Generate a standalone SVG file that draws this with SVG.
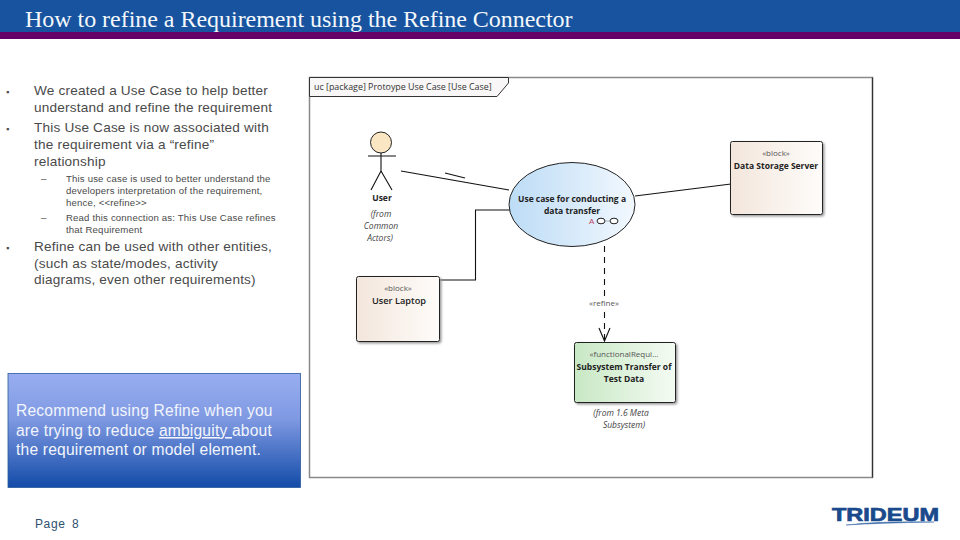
<svg xmlns="http://www.w3.org/2000/svg" width="960" height="540" viewBox="0 0 960 540">
<style>
text{font-family:"Liberation Sans",Arial,sans-serif}
.b{font-size:13.6px;fill:#4a4a4a;letter-spacing:.19px}
.d{font-size:9px;fill:#4a4a4a}
.s{font-size:9.6px;fill:#4a4a4a;letter-spacing:.17px}
.n{font-size:8.5px;fill:#222;font-weight:bold;font-family:"Open Sans","Liberation Sans",sans-serif;text-anchor:middle}
.t{font-size:8px;fill:#555;font-family:"Open Sans","Liberation Sans",sans-serif;text-anchor:middle}
.i{font-size:8.5px;fill:#444;font-style:italic;font-family:"Open Sans","Liberation Sans",sans-serif;text-anchor:middle}
.w{font-size:15.6px;fill:#f2f5fc;letter-spacing:.2px}
.l{fill:none;stroke:#111;stroke-width:1.1}
.box{stroke:#222;stroke-width:1;filter:url(#sh)}
</style>
<defs>
<linearGradient id="bl" x1="0" y1="0" x2="0" y2="1"><stop offset="0" stop-color="#98aef0"/><stop offset=".4" stop-color="#7f99e2"/><stop offset="1" stop-color="#124ba8"/></linearGradient>
<linearGradient id="uc" x1="0" y1="0" x2="1" y2="0"><stop offset="0" stop-color="#bcdcf6"/><stop offset="1" stop-color="#f2f8fe"/></linearGradient>
<linearGradient id="bk" x1="0" y1="0" x2="1" y2="0"><stop offset="0" stop-color="#f3e6dc"/><stop offset="1" stop-color="#fefcfa"/></linearGradient>
<linearGradient id="gr" x1="0" y1="0" x2="1" y2="0"><stop offset="0" stop-color="#c8e8c4"/><stop offset="1" stop-color="#f4fbf3"/></linearGradient>
<filter id="sh" x="-10%" y="-10%" width="125%" height="125%"><feDropShadow dx="1.500" dy="1.500" stdDeviation="1" flood-color="#999"/></filter>
</defs>
<rect width="960" height="540" fill="#fff"/>
<g id="header">
<rect width="960" height="32" fill="#17539f"/>
<rect y="32" width="960" height="7" fill="#660066"/>
<text x="25" y="27" style="font-family:'Liberation Serif',serif;font-size:24px;fill:#f4f8fc;letter-spacing:-.03px">How to refine a Requirement using the Refine Connector</text>
</g>
<g id="bullets">
<text class="d" x="6" y="95">▪</text>
<text class="b" x="34" y="95">We created a Use Case to help better</text>
<text class="b" x="34" y="112">understand and refine the requirement</text>
<text class="d" x="6" y="132">▪</text>
<text class="b" x="34" y="132">This Use Case is now associated with</text>
<text class="b" x="34" y="149">the requirement via a “refine”</text>
<text class="b" x="34" y="166">relationship</text>
<text class="s" x="41" y="182">–</text>
<text class="s" x="66" y="182">This use case is used to better understand the</text>
<text class="s" x="66" y="194">developers interpretation of the requirement,</text>
<text class="s" x="66" y="206">hence, &lt;&lt;refine&gt;&gt;</text>
<text class="s" x="41" y="221">–</text>
<text class="s" x="66" y="221">Read this connection as: This Use Case refines</text>
<text class="s" x="66" y="233">that Requirement</text>
<text class="d" x="6" y="251">▪</text>
<text class="b" x="34" y="251">Refine can be used with other entities,</text>
<text class="b" x="34" y="268">(such as state/modes, activity</text>
<text class="b" x="34" y="284">diagrams, even other requirements)</text>
</g>
<g id="callout">
<rect x="8" y="373.500" width="292.500" height="114" fill="url(#bl)" stroke="#2b5a9c" stroke-width=".8"/>
<text class="w" x="16" y="416">Recommend using Refine when you</text>
<text class="w" x="16" y="436">are trying to reduce <tspan text-decoration="underline">ambiguity </tspan>about</text>
<text class="w" x="16" y="455">the requirement or model element.</text>
</g>
<g id="frame">
<rect x="309.500" y="77.500" width="563" height="400" fill="#fff" stroke="#8a8a8a" stroke-width="1.500"/>
<path d="M872.500 77.500V477.500" stroke="#333" stroke-width="1.200"/>
<path d="M309.500 77.500H508.500V83L497 96.500H309.500Z" fill="#f8f6f6" stroke="#333" stroke-width="1"/>
<text x="314" y="90" style="font-size:8.900px;fill:#333;font-family:'Open Sans','Liberation Sans',sans-serif">uc [package] Protoype Use Case [Use Case]</text>
</g>
<g id="connectors">
<path class="l" d="M401 171L509 190"/>
<path class="l" d="M445 173L465 178"/>
<path class="l" d="M510 210H475.500V280H440"/>
<path class="l" d="M635 196L731 184"/>
<path class="l" d="M604.500 246V340" stroke-dasharray="6 5"/>
<path class="l" d="M599 328L604.500 341L610 328"/>
<rect x="584" y="298" width="40" height="10" fill="#fff"/>
<text class="t" x="604" y="306">«refine»</text>
</g>
<g id="user">
<circle cx="381" cy="142.500" r="10.500" fill="#fbe6c4" stroke="#222"/>
<path class="l" d="M368 156H396M381 153V171M381 171L371 190M381 171L392 190"/>
<text class="n" x="382" y="201">User</text>
<text class="i" x="381" y="217">(from</text>
<text class="i" x="381" y="229">Common</text>
<text class="i" x="380" y="241">Actors)</text>
</g>
<g id="usecase">
<ellipse cx="572" cy="204.500" rx="63" ry="42" fill="url(#uc)" stroke="#222"/>
<text class="n" x="572" y="202">Use case for conducting a</text>
<text class="n" x="572" y="214">data transfer</text>
<text x="589" y="224" style="font-size:8px;fill:#c04060">A</text>
<ellipse cx="601" cy="221" rx="4" ry="2.800" fill="#fff" stroke="#222"/>
<ellipse cx="614" cy="221" rx="4" ry="2.800" fill="#fff" stroke="#222"/>
<path d="M605 221H610" stroke="#888" stroke-width=".6"/>
</g>
<g id="server">
<rect class="box" x="730.500" y="141.500" width="92" height="73" rx="2" fill="url(#bk)"/>
<text class="t" x="776" y="156">«block»</text>
<text class="n" x="776" y="169">Data Storage Server</text>
</g>
<g id="laptop">
<rect class="box" x="356.500" y="276.500" width="83" height="65" rx="2" fill="url(#bk)"/>
<text class="t" x="398" y="291">«block»</text>
<text class="n" x="399" y="304" style="font-size:9.200px;font-weight:600">User Laptop</text>
</g>
<g id="requirement">
<rect class="box" x="574.500" y="342.500" width="101" height="60" rx="2" fill="url(#gr)"/>
<text class="t" x="624" y="357">«functionalRequi...</text>
<text class="n" x="624" y="370">Subsystem Transfer of</text>
<text class="n" x="624" y="382">Test Data</text>
<text class="i" x="621" y="416">(from 1.6 Meta</text>
<text class="i" x="624" y="428">Subsystem)</text>
</g>
<g id="footer">
<text x="35" y="528" style="font-size:12px;fill:#2f4f6f;letter-spacing:.6px">Page</text>
<text x="72" y="528" style="font-size:12px;fill:#2f4f6f">8</text>
</g>
<g id="logo">
<text x="832" y="521" textLength="107" lengthAdjust="spacingAndGlyphs" style="font-size:18.500px;font-weight:bold;fill:#1a4a8c;stroke:#1a4a8c;stroke-width:.7">TRIDEUM</text>
<path d="M846 525Q880 521 934 522Q880 523 846 525Z" fill="#3a6aa8" stroke="#3a6aa8" stroke-width=".5"/>
</g>
</svg>
